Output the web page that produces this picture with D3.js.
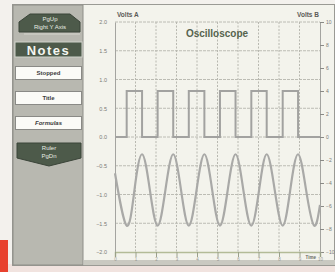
<!DOCTYPE html>
<html lang="en">
<head>
<meta charset="UTF-8">
<title>Oscilloscope</title>
<style>
    body { margin: 0; background: #f3f1ed; }
    svg { display: block; font-family: "Liberation Sans", Arial, sans-serif; }
</style>
</head>
<body>
<div id="chart"></div>
<script src="https://d3js.org/d3.v7.min.js"></script>
<script>
// ---- data ----
var leftTicks  = [-2, -1.5, -1, -0.5, 0, 0.5, 1, 1.5, 2];
var rightTicks = [-10, -8, -6, -4, -2, 0, 2, 4, 6, 8, 10];
var timeTicks  = [0, 1, 2, 3, 4, 5, 6, 7, 8, 9, 10];

// channel B : square wave (step after), time / volts
var squareT = [0, 0.57, 1.32, 2.08, 2.84, 3.60, 4.36, 5.12, 5.88, 6.65, 7.40, 8.18, 8.93, 10];
var squareV = [0, 4,    0,    4,    0,    4,    0,    4,    0,    4,    0,    4,    0,    0];

// channel A : sine wave samples (peaks, troughs, crossings)
var sineT = [0, 0.57, 0.95, 1.32, 1.70, 2.08, 2.46, 2.84, 3.22, 3.60, 3.98, 4.36, 4.74,
             5.12, 5.50, 5.88, 6.26, 6.65, 7.03, 7.40, 7.79, 8.18, 8.55, 8.93, 9.32, 9.71, 10];
var sineV = [-0.63, -1.54, -0.92, -0.30, -0.92, -1.54, -0.92, -0.30, -0.92, -1.54, -0.92, -0.30, -0.92,
             -1.54, -0.92, -0.30, -0.92, -1.54, -0.92, -0.30, -0.92, -1.54, -0.92, -0.30, -0.92, -1.54, -1.18];

var buttonLabels = ["Stopped", "Title", "Formulas"];

// ---- drawing ----
var width = 335, height = 272;
var svg = d3.select("#chart").append("svg")
    .attr("width", width).attr("height", height);

// page frame
svg.append("rect").attr("x", 0).attr("y", 0).attr("width", width).attr("height", height).attr("fill", "#f3f1ed");
svg.append("rect").attr("x", 0).attr("y", 240).attr("width", 8).attr("height", 32).attr("fill", "#e8412e");
svg.append("rect").attr("x", 8).attr("y", 264).attr("width", 327).attr("height", 8).attr("fill", "#f1e3df");
svg.append("rect").attr("x", 12.5).attr("y", 4.5).attr("width", 322).attr("height", 261)
    .attr("fill", "#f3f3ec").attr("stroke", "#9a9a94");
svg.append("rect").attr("x", 84).attr("y", 260).attr("width", 251).attr("height", 5).attr("fill", "#c9c9c1");

// left control panel
var panel = svg.append("g");
panel.append("rect").attr("x", 13).attr("y", 5).attr("width", 70).attr("height", 260)
    .attr("fill", "#b8b8b0").attr("stroke", "#8e8e88");

var dark = "#4d5a4a";
panel.append("path")
    .attr("d", "M19,22 L30,14 L70,14 L80,22 L80,32 L19,32 Z")
    .attr("fill", dark).attr("stroke", "#3a4438");
panel.append("text").attr("x", 50).attr("y", 21).attr("text-anchor", "middle")
    .attr("font-size", 6).attr("fill", "#e8ece4").text("PgUp");
panel.append("text").attr("x", 50).attr("y", 29).attr("text-anchor", "middle")
    .attr("font-size", 6).attr("fill", "#e8ece4").text("Right Y Axis");
panel.append("line").attr("x1", 24).attr("x2", 80).attr("y1", 34).attr("y2", 34)
    .attr("stroke", "#d4d4cc");

panel.append("rect").attr("x", 15).attr("y", 42).attr("width", 67).attr("height", 15)
    .attr("fill", dark).attr("stroke", "#cfd2ca");
panel.append("text").attr("x", 48.5).attr("y", 54.5).attr("text-anchor", "middle")
    .attr("font-size", 13).attr("font-weight", "bold").attr("letter-spacing", 1.5)
    .attr("fill", "#f4f6f0").text("Notes");

panel.selectAll(".btn").data(buttonLabels).enter().append("rect")
    .attr("class", "btn")
    .attr("x", 15.5).attr("y", function(d, i) { return 66.5 + i * 25; })
    .attr("width", 66).attr("height", 13)
    .attr("fill", "#fbfbf7").attr("stroke", "#8a8a86");
panel.selectAll(".btn-text").data(buttonLabels).enter().append("text")
    .attr("class", "btn-text")
    .attr("x", 48.5).attr("y", function(d, i) { return 75 + i * 25; })
    .attr("text-anchor", "middle").attr("font-size", 6).attr("font-weight", "bold")
    .attr("font-style", function(d) { return d === "Formulas" ? "italic" : "normal"; })
    .attr("fill", "#3c3c3c").text(function(d) { return d; });

panel.append("path")
    .attr("d", "M17,143 L81,143 L81,158 L49,166 L17,158 Z")
    .attr("fill", dark).attr("stroke", "#3a4438");
panel.append("text").attr("x", 49).attr("y", 150).attr("text-anchor", "middle")
    .attr("font-size", 6).attr("fill", "#e8ece4").text("Ruler");
panel.append("text").attr("x", 49).attr("y", 158).attr("text-anchor", "middle")
    .attr("font-size", 6).attr("fill", "#e8ece4").text("PgDn");

// scales
var x  = d3.scaleLinear().domain([0, 10]).range([115, 320]);
var yA = d3.scaleLinear().domain([-2, 2]).range([252, 22]);
var yB = d3.scaleLinear().domain([-10, 10]).range([252, 22]);

var plot = svg.append("g");

// grid
plot.selectAll(".hgrid").data(leftTicks.filter(function(d) { return d > -2; })).enter()
    .append("line").attr("class", "hgrid")
    .attr("x1", x(0)).attr("x2", x(10))
    .attr("y1", function(d) { return yA(d); }).attr("y2", function(d) { return yA(d); })
    .attr("stroke", "#bcbcb4").attr("stroke-dasharray", "3,1");
plot.selectAll(".vgrid").data(timeTicks.slice(1, -1)).enter()
    .append("line").attr("class", "vgrid")
    .attr("y1", yA(2)).attr("y2", yA(-2))
    .attr("x1", function(d) { return x(d); }).attr("x2", function(d) { return x(d); })
    .attr("stroke", "#b8b8b0").attr("stroke-dasharray", "2,1.5");

// axes
var leftAxis = d3.axisLeft(yA).tickValues(leftTicks).tickSize(0).tickPadding(8)
    .tickFormat(d3.format(".1f"));
var gL = plot.append("g").attr("transform", "translate(" + x(0) + ",0)").call(leftAxis);
gL.select(".domain").attr("stroke", "#a4a4a0");
gL.selectAll("text").attr("font-size", 5.5).attr("fill", "#7a7a76");

var rightAxis = d3.axisRight(yB).tickValues(rightTicks).tickSize(4).tickPadding(2);
var gR = plot.append("g").attr("transform", "translate(" + x(10) + ",0)").call(rightAxis);
gR.select(".domain").attr("stroke", "#a4a4a0");
gR.selectAll(".tick line").attr("stroke", "#8a8a86");
gR.selectAll("text").attr("font-size", 5).attr("fill", "#7a7a76");

var bottomAxis = d3.axisBottom(x).tickValues(timeTicks).tickSize(5).tickPadding(1);
var gB = plot.append("g").attr("transform", "translate(0," + yA(-2) + ")").call(bottomAxis);
gB.select(".domain").attr("stroke", "#b3bb97").attr("stroke-width", 1.5);
gB.selectAll(".tick line").attr("stroke", "#9aa08a");
gB.selectAll("text").attr("font-size", 4.5).attr("fill", "#9a9a94");

// traces
var squareLine = d3.line()
    .x(function(d, i) { return x(squareT[i]); })
    .y(function(d) { return yB(d); })
    .curve(d3.curveStepAfter);
plot.append("path").datum(squareV)
    .attr("d", squareLine)
    .attr("fill", "none").attr("stroke", "#a2a2a0").attr("stroke-width", 2);

var sineLine = d3.line()
    .x(function(d, i) { return x(sineT[i]); })
    .y(function(d) { return yA(d); })
    .curve(d3.curveNatural);
plot.append("path").datum(sineV)
    .attr("d", sineLine)
    .attr("fill", "none").attr("stroke", "#a9a9a7").attr("stroke-width", 2.2);

// labels
plot.append("text").attr("x", 217).attr("y", 37).attr("text-anchor", "middle")
    .attr("font-size", 10).attr("font-weight", "bold").attr("fill", "#56634e")
    .text("Oscilloscope");
plot.append("text").attr("x", 117).attr("y", 17)
    .attr("font-size", 6.5).attr("font-weight", "bold").attr("fill", "#5a5a56")
    .text("Volts A");
plot.append("text").attr("x", 319).attr("y", 17).attr("text-anchor", "end")
    .attr("font-size", 6.5).attr("font-weight", "bold").attr("fill", "#5a5a56")
    .text("Volts B");
plot.append("text").attr("x", 316).attr("y", 259).attr("text-anchor", "end")
    .attr("font-size", 4.5).attr("font-weight", "bold").attr("fill", "#6a6a66")
    .text("Time");
</script>
</body>
</html>
